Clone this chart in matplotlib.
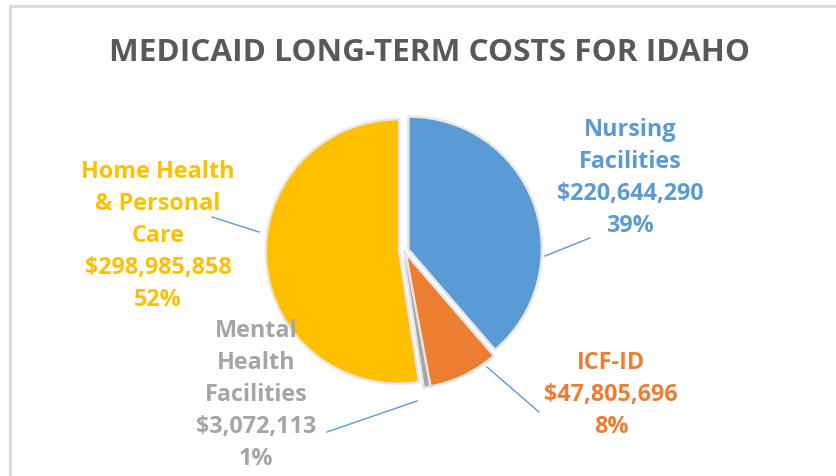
import matplotlib
matplotlib.use("Agg")
import matplotlib.pyplot as plt
import matplotlib.patheffects as pe
from matplotlib.lines import Line2D

title = "MEDICAID LONG-TERM COSTS FOR IDAHO"
categories = ["Nursing\nFacilities", "ICF-ID", "Mental\nHealth\nFacilities", "Home Health\n& Personal\nCare"]
values = [220644290, 47805696, 3072113, 298985858]
colors = ["#5B9BD5", "#ED7D31", "#A5A5A5", "#FFC000"]

W, H = 836, 477
fig = plt.figure(figsize=(W / 100, H / 100), dpi=100)
ax = fig.add_axes([0, 0, 1, 1])
renderer = fig.canvas.get_renderer()

def Y(y):
    return H - y

cx, cy, R = 404, 252, 131
wedges, _ = ax.pie(values, colors=colors, startangle=90, counterclock=False,
                   radius=R, center=(cx, Y(cy)), explode=[6] * len(values),
                   wedgeprops=dict(linewidth=0))
for w in wedges:
    w.set_path_effects([pe.Stroke(linewidth=3.5, foreground="#e6e6e6"), pe.Normal()])

ax.set_xlim(0, W)
ax.set_ylim(0, H)
ax.set_aspect("equal")
ax.axis("off")

fig.add_artist(Line2D([10 / W, 1], [1 - 7 / H, 1 - 7 / H], color="#d9d9d9", lw=2))
fig.add_artist(Line2D([10 / W, 10 / W], [0, 1 - 7 / H], color="#d9d9d9", lw=2))

fam = ["Open Sans", "DejaVu Sans"]

def fit_size(s, target_px, base=20):
    t = fig.text(0, 0, s, fontsize=base, fontweight="bold", family=fam)
    w = t.get_window_extent(renderer).width
    t.remove()
    return base * target_px / w

title_fs = fit_size(title, 640)
ax.text(430, Y(53), title, ha="center", va="center", fontsize=title_fs,
        fontweight="bold", color="#595959", family=fam)

label_fs = fit_size("$298,985,858", 147)
total = sum(values)
label_pos = [(630, 178), (611, 395), (256, 395), (158, 236)]
for cat, v, col, (lx, ly) in zip(categories, values, colors, label_pos):
    pct = round(100 * v / total)
    txt = f"{cat}\n${v:,.0f}\n{pct}%"
    ax.text(lx, Y(ly), txt, ha="center", va="center", multialignment="center",
            fontsize=label_fs, fontweight="bold", color=col, family=fam, linespacing=1.45)

leaders = [((545, 257), (590, 239)), ((487, 368), (539, 413)),
           ((417, 402), (327, 433)), ((259, 233), (212, 218))]
for (x0, y0), (x1, y1) in leaders:
    ax.plot([x0, x1], [Y(y0), Y(y1)], color="#5B9BD5", lw=1)

fig.savefig("out.png", dpi=100)
